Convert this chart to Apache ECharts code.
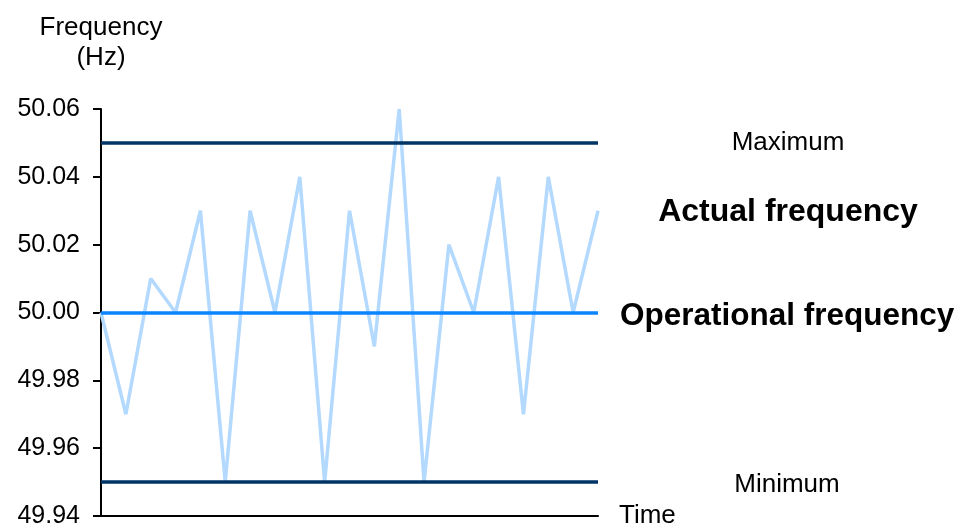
<!DOCTYPE html>
<html>
<head>
<meta charset="utf-8">
<script src="https://cdn.jsdelivr.net/npm/echarts@6/dist/echarts.min.js"></script>
<style>
html,body{margin:0;padding:0;background:#fff;}
#chart{width:961px;height:529px;}
</style>
</head>
<body>
<div id="chart"></div>
<script>
const timeSteps = ['1','2','3','4','5','6','7','8','9','10','11','12','13','14','15','16','17','18','19','20','21'];
const actualFrequency = [50.00, 49.97, 50.01, 50.00, 50.03, 49.95, 50.03, 50.00, 50.04, 49.95, 50.03, 49.99, 50.06, 49.95, 50.02, 50.00, 50.04, 49.97, 50.04, 50.00, 50.03];
const maximumLevel = 50.05;
const operationalLevel = 50.00;
const minimumLevel = 49.95;
const yTicks = { min: 49.94, max: 50.06, step: 0.02 };

const FONT = '"Liberation Sans", Arial, sans-serif';
const chart = echarts.init(document.getElementById('chart'), null, {renderer: 'canvas'});
chart.setOption({
  animation: false,
  backgroundColor: '#ffffff',
  grid: { left: 101, right: 363, top: 109, bottom: 10, containLabel: false },
  xAxis: {
    type: 'category',
    data: timeSteps,
    boundaryGap: false,
    name: 'Time',
    nameLocation: 'end',
    nameGap: 21,
    nameTextStyle: { fontFamily: FONT, fontSize: 26, color: '#000', verticalAlign: 'middle' },
    axisLine: { lineStyle: { color: '#000', width: 2 } },
    axisTick: { show: false },
    axisLabel: { show: false },
    splitLine: { show: false }
  },
  yAxis: {
    type: 'value',
    min: yTicks.min,
    max: yTicks.max,
    interval: yTicks.step,
    name: 'Frequency\n(Hz)',
    nameLocation: 'end',
    nameGap: 36,
    nameTextStyle: { fontFamily: FONT, fontSize: 26, color: '#000', align: 'center', lineHeight: 30 },
    axisLine: { show: true, lineStyle: { color: '#000', width: 2 } },
    axisTick: { show: true, inside: false, length: 8, lineStyle: { color: '#000', width: 2 } },
    axisLabel: { fontFamily: FONT, fontSize: 25, color: '#000', margin: 21, formatter: v => v.toFixed(2) },
    splitLine: { show: false }
  },
  series: [
    {
      type: 'line',
      name: 'Actual frequency',
      data: actualFrequency,
      symbol: 'none',
      lineStyle: { color: '#b3d9ff', width: 3.5 },
      z: 3,
      markLine: {
        silent: true,
        symbol: 'none',
        label: { show: false },
        data: [
          { yAxis: maximumLevel, lineStyle: { color: '#003366', width: 3.5, type: 'solid' } },
          { yAxis: minimumLevel, lineStyle: { color: '#003366', width: 3.5, type: 'solid' } },
          { yAxis: operationalLevel, lineStyle: { color: '#0a84ff', width: 3.5, type: 'solid' } }
        ]
      }
    }
  ],
  graphic: [
    { type: 'text', x: 788, y: 143, style: { text: 'Maximum', font: '26px ' + FONT, fill: '#000', align: 'center', verticalAlign: 'middle' } },
    { type: 'text', x: 788, y: 212, style: { text: 'Actual frequency', font: 'bold 32px ' + FONT, fill: '#000', align: 'center', verticalAlign: 'middle' } },
    { type: 'text', x: 620, y: 316, style: { text: 'Operational frequency', font: 'bold 31.5px ' + FONT, fill: '#000', align: 'left', verticalAlign: 'middle' } },
    { type: 'text', x: 787, y: 485, style: { text: 'Minimum', font: '26px ' + FONT, fill: '#000', align: 'center', verticalAlign: 'middle' } }
  ]
});
</script>
</body>
</html>
